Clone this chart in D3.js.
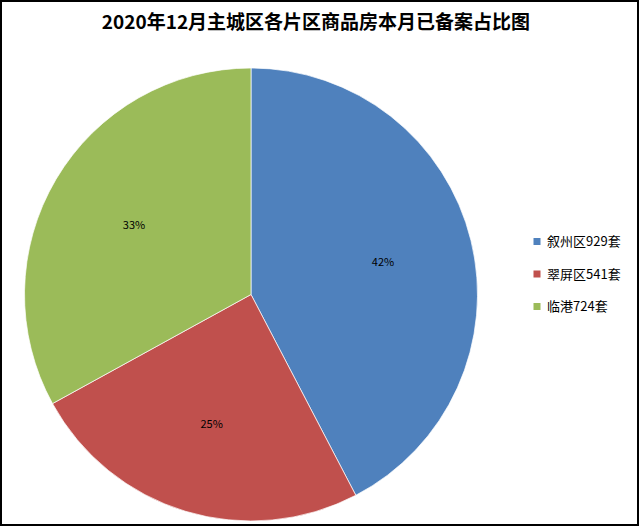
<!DOCTYPE html>
<html>
<head>
<meta charset="utf-8">
<script src="https://cdn.jsdelivr.net/npm/d3@7"></script>
<style>
html,body{margin:0;padding:0;background:#fff;}
svg{display:block;}
</style>
</head>
<body>
<svg id="chart" width="640" height="527"></svg>
<script>
const title = "2020年12月主城区各片区商品房本月已备案占比图";
const categories = ["叙州区", "翠屏区", "临港"];
const values = [929, 541, 724];
const legendLabels = ["叙州区929套", "翠屏区541套", "临港724套"];
const colors = ["#4F81BD", "#C0504D", "#9BBB59"];

const svg = d3.select("#chart");
const W = 640, H = 527;
const font = "'Noto Sans CJK SC', 'Noto Sans', sans-serif";

svg.append("rect").attr("x", 0).attr("y", 0).attr("width", W).attr("height", H).attr("fill", "#fff");
svg.append("rect").attr("x", 1).attr("y", 1).attr("width", 637).attr("height", 524)
  .attr("fill", "none").attr("stroke", "#000").attr("stroke-width", 2);

svg.append("text").attr("x", 316).attr("y", 28.5).attr("text-anchor", "middle")
  .attr("font-family", font).attr("font-weight", "bold").attr("font-size", 19)
  .attr("fill", "#000").text(title);

const cx = 251, cy = 294.5, r = 226.5;
const data = categories.map((c, i) => ({cat: c, value: values[i], color: colors[i]}));
const pie = d3.pie().value(d => d.value).sort(null).startAngle(0).endAngle(2 * Math.PI);
const arcs = pie(data);
const arc = d3.arc().innerRadius(0).outerRadius(r);
const labelArc = d3.arc().innerRadius(r * 0.6).outerRadius(r * 0.6);
const total = d3.sum(values);

const g = svg.append("g").attr("transform", `translate(${cx},${cy})`);
g.selectAll("path").data(arcs).enter().append("path")
  .attr("d", arc).attr("fill", d => d.data.color)
  .attr("stroke", "#fff").attr("stroke-width", 0.7);

g.selectAll("text.pct").data(arcs).enter().append("text")
  .attr("class", "pct")
  .attr("transform", d => `translate(${labelArc.centroid(d)})`)
  .attr("text-anchor", "middle").attr("dy", "0.35em")
  .attr("font-family", font).attr("font-size", 11).attr("fill", "#000")
  .text(d => Math.round(d.data.value / total * 100) + "%");

const legend = svg.append("g");
const ly = d3.scalePoint().domain(legendLabels).range([241.5, 306.5]);
legendLabels.forEach((lab, i) => {
  legend.append("rect").attr("x", 533.5).attr("y", ly(lab) - 3.5).attr("width", 7).attr("height", 7)
    .attr("fill", colors[i]);
  legend.append("text").attr("x", 547).attr("y", ly(lab)).attr("dy", "0.36em")
    .attr("font-family", font).attr("font-size", 13).attr("fill", "#000").text(lab);
});
</script>
</body>
</html>
